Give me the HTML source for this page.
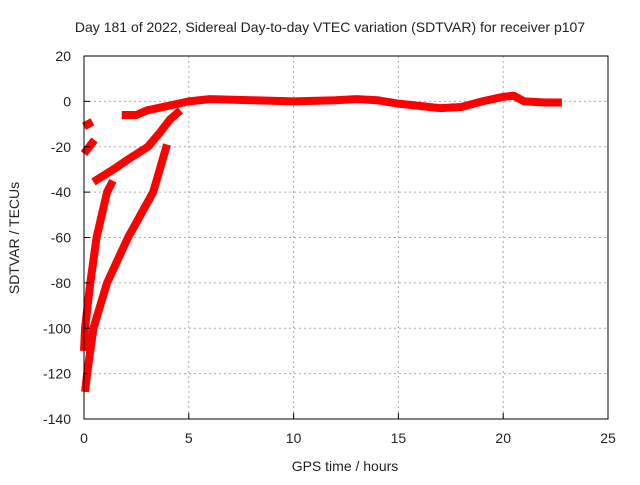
<!DOCTYPE html>
<html><head><meta charset="utf-8"><style>
body{margin:0;background:#fff;}
text{font-family:"Liberation Sans",sans-serif;font-size:14px;fill:#222;}
</style></head><body>
<svg id="chart" width="640" height="480" viewBox="0 0 640 480" xmlns="http://www.w3.org/2000/svg">
<text x="330" y="32" text-anchor="middle">Day 181 of 2022, Sidereal Day-to-day VTEC variation (SDTVAR) for receiver p107</text>
<g id="grid"></g>
<g id="series"></g>
<rect x="84" y="56" width="524" height="363" fill="none" stroke="#000" stroke-width="1"/>
<g id="ticks"></g>
<text x="345" y="471" text-anchor="middle">GPS time / hours</text>
<text transform="translate(19,238) rotate(-90)" text-anchor="middle">SDTVAR / TECUs</text>
</svg>
<script>
const xTicks=[0,5,10,15,20,25];
const yTicks=[20,0,-20,-40,-60,-80,-100,-120,-140];
const segA=[[0.0,-11],[0.4,-9]];
const segB=[[0.0,-23],[0.5,-17]];
const segC=[[0.45,-35.5],[1.4,-30],[2.2,-25],[3.05,-20],[3.6,-14],[4.1,-8],[4.6,-4]];
const segD=[[0.0,-110],[0.05,-100],[0.3,-80],[0.6,-60],[1.1,-40],[1.38,-35]];
const segE=[[0.05,-128],[0.15,-120],[0.45,-100],[1.1,-80],[2.1,-60],[3.3,-40],[3.96,-19]];
const segF=[[1.8,-6],[2.5,-6],[3,-4],[4,-2],[5,0],[6,1],[8,0.5],[10,0],[12,0.5],[13,1],[14,0.5],[15,-1],[16,-2],[17,-3],[18,-2.5],[19,0],[20,2],[20.5,2.5],[21,0],[22,-0.5],[22.8,-0.5]];
const segments=[segA,segB,segC,segD,segE,segF];
const NS="http://www.w3.org/2000/svg";
const X=v=>84+(v-0)*(524/25);
const Y=v=>56+(20-v)*(363/160);
const grid=document.getElementById('grid'),ticks=document.getElementById('ticks'),ser=document.getElementById('series');
function mk(tag,attrs,parent){const e=document.createElementNS(NS,tag);for(const k in attrs)e.setAttribute(k,attrs[k]);parent.appendChild(e);return e;}
xTicks.forEach(t=>{
 if(t>0&&t<25){const g=mk('line',{x1:X(t),x2:X(t),y1:56,y2:419,stroke:'#aaa','stroke-dasharray':'2,3'},grid);
 
 }
 const l=mk('text',{x:X(t),y:443,'text-anchor':'middle'},ticks);l.textContent=t;
 
 
 mk('line',{x1:X(t),x2:X(t),y1:419,y2:413,stroke:'#000'},ticks);
});
yTicks.forEach(t=>{
 if(t<20&&t>-140){const g=mk('line',{x1:84,x2:608,y1:Y(t),y2:Y(t),stroke:'#aaa','stroke-dasharray':'2,3'},grid);
 
 }
 const l=mk('text',{x:71,y:Y(t)+5,'text-anchor':'end'},ticks);l.textContent=t;
 
 
 mk('line',{x1:84,x2:90,y1:Y(t),y2:Y(t),stroke:'#000'},ticks);
});
segments.forEach(s=>{
 const p=mk('polyline',{points:s.map(d=>X(d[0])+','+Y(d[1])).join(' '),fill:'none',stroke:'#f00','stroke-width':8,'stroke-linejoin':'round','stroke-linecap':'butt'},ser);
 
 
});
</script>
</body></html>
